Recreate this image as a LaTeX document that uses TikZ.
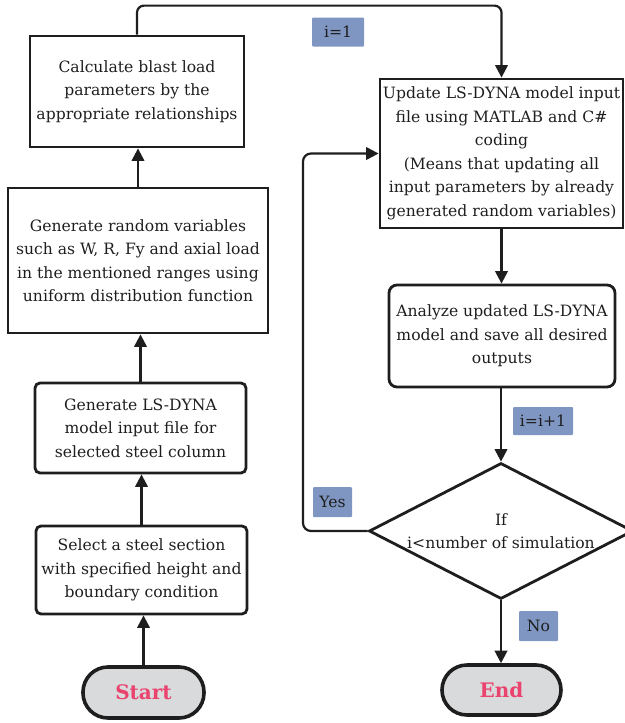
\documentclass[tikz,border=0pt]{standalone}
\usepackage{fontspec}
\setmainfont{DejaVu Serif}
\usetikzlibrary{shapes.geometric,arrows.meta,calc}
\definecolor{tagblue}{HTML}{7F96C2}
\definecolor{termgray}{HTML}{D9DADC}
\definecolor{termpink}{HTML}{E9436E}
\definecolor{ink}{HTML}{1E1E1E}
\begin{document}
\begin{tikzpicture}[x=1pt,y=-1pt,
  every node/.style={font=\fontsize{15.6}{23.5}\selectfont, text=ink},
  procbox/.style={draw=ink, line width=2.8pt, align=center, inner sep=0pt},
  roundbox/.style={procbox, rounded corners=5pt},
  term/.style={draw=ink, line width=3.6pt, fill=termgray, rounded corners=25pt,
    font=\fontsize{20}{23}\selectfont\bfseries, text=termpink, inner sep=0pt},
  tag/.style={fill=tagblue, inner sep=0pt, rounded corners=1pt},
  conn/.style={draw=ink, line width=2.2pt, -{Triangle[length=12.5pt,width=12.5pt]}},
]
\useasboundingbox (0,0) rectangle (624,723);

% left column: preparation steps
\node[procbox, minimum width=214pt, minimum height=111pt] (b1) at (137,91.5)
  {Calculate blast load\\parameters by the\\appropriate relationships};
\node[procbox, minimum width=260pt, minimum height=145pt] (b2) at (138,260.5)
  {Generate random variables\\such as W, R, Fy and axial load\\in the mentioned ranges using\\uniform distribution function};
\node[roundbox, minimum width=211pt, minimum height=90pt] (b3) at (140.5,428)
  {Generate LS-DYNA\\model input file for\\selected steel column};
\node[roundbox, minimum width=211pt, minimum height=88pt] (b4) at (141.5,570)
  {Select a steel section\\with specified height and\\boundary condition};
\node[term, minimum width=121pt, minimum height=51pt] (start) at (143.5,692.5) {Start};

% right column: simulation loop
\node[procbox, minimum width=243pt, minimum height=149pt] (b5) at (501.5,153.5)
  {Update LS-DYNA model input\\file using MATLAB and C\#\\coding\\(Means that updating all\\input parameters by already\\generated random variables)};
\node[procbox, rounded corners=8pt, minimum width=226pt, minimum height=102pt] (b6) at (502,336)
  {Analyze updated LS-DYNA\\model and save all desired\\outputs};
\node[draw=ink, line width=2.8pt, diamond, minimum width=264pt, minimum height=136pt, inner sep=0pt] (dia) at (501,531) {};
\node[align=center] (diatext) at (dia.center) {If\\i<number of simulation};
\node[term, minimum width=119pt, minimum height=50pt] (end) at (501.5,690) {End};

% connector labels
\node[tag, minimum width=52pt, minimum height=29pt] (t1) at (338,32) {i=1};
\node[tag, minimum width=60pt, minimum height=28pt] (t2) at (543,421) {i=i+1};
\node[tag, minimum width=39pt, minimum height=30pt] (t3) at (332.5,502) {Yes};
\node[tag, minimum width=39pt, minimum height=30pt] (t4) at (538.5,626) {No};

% connectors
\draw[conn] (start.north) -- (start.north |- b4.south);
\draw[conn] (b4.north) -- (b4.north |- b3.south);
\draw[conn] (b3.north) -- (b3.north |- b2.south);
\draw[conn] (b2.north) -- (b2.north |- b1.south);
\draw[conn, rounded corners=7pt] (b1.north) -- ++(0,-29) -| (b5.north);
\draw[conn] (b5.south) -- (b5.south |- b6.north);
\draw[conn] (b6.south -| dia.north) -- (dia.north);
\draw[conn] (dia.south) -- (dia.south |- end.north);
\coordinate (loop) at (303,0);
\draw[conn, rounded corners=8pt] (dia.west) -| (loop |- b5.west) -- (b5.west);
\end{tikzpicture}
\end{document}
